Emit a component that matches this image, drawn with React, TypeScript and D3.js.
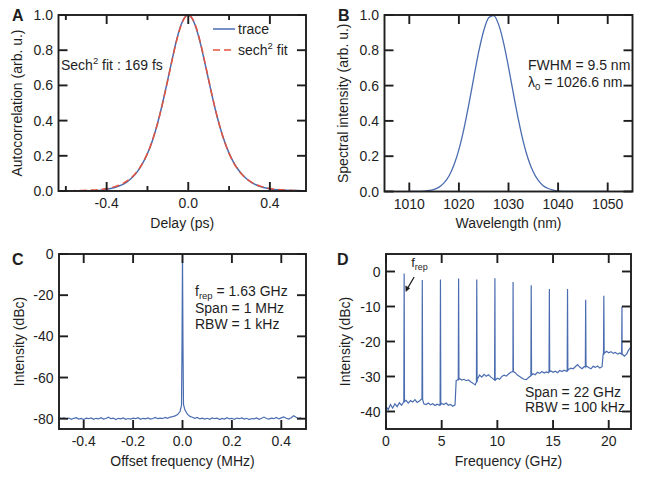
import React from "react"
import * as d3 from "d3"

// A: autocorrelation -> [delay (ps), measured trace, sech^2 fit]
const acData: [number, number, number][] = [
  [-0.64, 0.002, 0.001], [-0.6, -0.003, 0.001], [-0.56, 0.001, 0.002], [-0.52, -0.004, 0.003],
  [-0.48, 0.0, 0.005], [-0.44, 0.003, 0.008], [-0.4, 0.01, 0.014], [-0.38, 0.014, 0.019],
  [-0.36, 0.02, 0.025], [-0.34, 0.028, 0.033], [-0.32, 0.038, 0.043], [-0.3, 0.052, 0.057],
  [-0.28, 0.071, 0.075], [-0.26, 0.095, 0.098], [-0.24, 0.126, 0.128], [-0.22, 0.165, 0.166],
  [-0.2, 0.213, 0.214], [-0.18, 0.272, 0.273], [-0.16, 0.345, 0.345], [-0.14, 0.432, 0.43],
  [-0.12, 0.53, 0.527], [-0.1, 0.636, 0.632], [-0.08, 0.742, 0.739], [-0.06, 0.845, 0.841],
  [-0.04, 0.928, 0.925], [-0.02, 0.982, 0.98], [0.0, 1.0, 1.0], [0.02, 0.978, 0.98],
  [0.04, 0.921, 0.925], [0.06, 0.836, 0.841], [0.08, 0.735, 0.739], [0.1, 0.629, 0.632],
  [0.12, 0.525, 0.527], [0.14, 0.429, 0.43], [0.16, 0.345, 0.345], [0.18, 0.274, 0.273],
  [0.2, 0.215, 0.214], [0.22, 0.167, 0.166], [0.24, 0.129, 0.128], [0.26, 0.099, 0.098],
  [0.28, 0.075, 0.075], [0.3, 0.056, 0.057], [0.32, 0.042, 0.043], [0.34, 0.031, 0.033],
  [0.36, 0.023, 0.025], [0.38, 0.017, 0.019], [0.4, 0.012, 0.014], [0.44, 0.007, 0.008],
  [0.48, 0.004, 0.005], [0.52, 0.003, 0.003], [0.56, 0.002, 0.002], [0.58, 0.002, 0.002],
]

// B: optical spectrum -> [wavelength (nm), normalised intensity]
const spectrum: [number, number][] = [
  [1010, 0], [1011, 0], [1012, 0.001], [1013, 0.002], [1014, 0.006], [1015, 0.012],
  [1016, 0.025], [1017, 0.049], [1018, 0.088], [1019, 0.15], [1020, 0.237], [1021, 0.353],
  [1022, 0.493], [1023, 0.645], [1024, 0.792], [1025, 0.911], [1026, 0.984], [1027, 0.997],
  [1028, 0.947], [1029, 0.844], [1030, 0.705], [1031, 0.553], [1032, 0.407], [1033, 0.28],
  [1034, 0.181], [1035, 0.11], [1036, 0.063], [1037, 0.033], [1038, 0.017], [1039, 0.008],
  [1040, 0.003], [1041, 0.001], [1042, 0], [1046, 0], [1050, 0],
]

// C: RF spectrum around f_rep -> [offset (MHz), dBc]
const rfNarrow: [number, number][] = [
  [-0.5, -79.4], [-0.49, -79.9], [-0.48, -79.6], [-0.47, -80.1], [-0.46, -79.7], [-0.45, -80.3],
  [-0.44, -79.8], [-0.43, -79.5], [-0.42, -80.2], [-0.41, -79.9], [-0.4, -80.4], [-0.39, -79.7],
  [-0.38, -80.0], [-0.37, -79.6], [-0.36, -80.3], [-0.35, -79.8], [-0.34, -80.1], [-0.33, -79.5],
  [-0.32, -80.2], [-0.31, -79.9], [-0.3, -79.3], [-0.29, -80.0], [-0.28, -79.7], [-0.27, -80.4],
  [-0.26, -79.8], [-0.25, -80.1], [-0.24, -79.6], [-0.23, -80.3], [-0.22, -79.9], [-0.21, -80.2],
  [-0.2, -79.7], [-0.19, -80.0], [-0.18, -79.5], [-0.17, -80.3], [-0.16, -79.8], [-0.15, -80.1],
  [-0.14, -79.6], [-0.13, -80.2], [-0.12, -79.9], [-0.11, -79.4], [-0.1, -80.0], [-0.09, -79.7],
  [-0.08, -79.9], [-0.07, -79.4], [-0.06, -79.8], [-0.05, -79.2], [-0.04, -79.0], [-0.03, -78.6],
  [-0.02, -78.0], [-0.01, -76.5], [-0.006, -74.5], [-0.004, -73.5], [-0.002, -45], [0, 0],
  [0.002, -45], [0.004, -73], [0.006, -74], [0.01, -75.8], [0.02, -77.8], [0.03, -78.9],
  [0.04, -79.3], [0.05, -79.8], [0.06, -79.4], [0.07, -80.1], [0.08, -79.7], [0.09, -80.2],
  [0.1, -79.8], [0.11, -80.3], [0.12, -79.6], [0.13, -80.0], [0.14, -79.7], [0.15, -80.4],
  [0.16, -79.9], [0.17, -80.2], [0.18, -79.5], [0.19, -80.1], [0.2, -79.8], [0.21, -80.3],
  [0.22, -79.7], [0.23, -80.0], [0.24, -79.6], [0.25, -80.2], [0.26, -79.8], [0.27, -80.4],
  [0.28, -79.9], [0.29, -80.1], [0.3, -79.6], [0.31, -80.3], [0.32, -79.8], [0.33, -79.2],
  [0.34, -79.9], [0.35, -80.2], [0.36, -79.7], [0.37, -80.0], [0.38, -79.4], [0.39, -80.1],
  [0.4, -79.6], [0.41, -79.1], [0.42, -79.8], [0.43, -80.2], [0.44, -79.5], [0.45, -78.6],
  [0.46, -79.3], [0.47, -79.9], [0.48, -79.4],
]

// D: wide span noise floor -> [frequency (GHz), dBc]
const rfWideFloor: [number, number][] = [
  [0.0, -38.5], [0.2, -39.5], [0.4, -38.0], [0.6, -39.0], [0.8, -37.8], [1.0, -38.6],
  [1.2, -37.5], [1.4, -38.2], [1.6, -37.4], [1.8, -36.8], [2.0, -37.6], [2.2, -36.9],
  [2.4, -37.3], [2.6, -36.6], [2.8, -37.4], [3.0, -37.0], [3.2, -36.4], [3.4, -37.8],
  [3.6, -38.0], [3.8, -37.6], [4.0, -38.1], [4.2, -37.8], [4.4, -38.3], [4.6, -37.9],
  [4.8, -38.2], [5.0, -37.7], [5.2, -38.0], [5.4, -37.6], [5.6, -38.2], [5.8, -38.0],
  [6.0, -38.5], [6.2, -38.1], [6.3, -31.2], [6.4, -31.0], [6.6, -30.6], [6.8, -31.0],
  [7.0, -30.8], [7.2, -31.2], [7.4, -31.0], [7.6, -31.5], [7.8, -31.9], [8.0, -32.4],
  [8.2, -30.8], [8.4, -29.6], [8.6, -30.2], [8.8, -29.4], [9.0, -29.9], [9.2, -29.5],
  [9.4, -30.1], [9.6, -30.6], [9.8, -31.3], [10.0, -30.5], [10.2, -30.8], [10.4, -30.0],
  [10.6, -29.6], [10.8, -29.9], [11.0, -29.3], [11.2, -28.8], [11.4, -28.4], [11.6, -28.9],
  [11.8, -29.6], [12.0, -30.0], [12.2, -30.4], [12.4, -30.8], [12.6, -30.9], [12.8, -30.3],
  [13.0, -29.8], [13.2, -29.2], [13.4, -29.5], [13.6, -28.8], [13.8, -29.1], [14.0, -28.6],
  [14.2, -29.0], [14.4, -28.7], [14.6, -28.9], [14.8, -28.4], [15.0, -28.8], [15.2, -28.5],
  [15.4, -28.9], [15.6, -28.3], [15.8, -28.6], [16.0, -28.2], [16.2, -28.5], [16.4, -28.0],
  [16.6, -27.6], [16.8, -27.8], [17.0, -27.2], [17.2, -26.6], [17.4, -27.3], [17.6, -27.8],
  [17.8, -27.2], [18.0, -27.0], [18.2, -27.4], [18.4, -27.8], [18.6, -27.1], [18.8, -27.4],
  [19.0, -27.0], [19.2, -27.6], [19.4, -27.2], [19.5, -23.6], [19.6, -23.4], [19.8, -22.8],
  [20.0, -23.2], [20.2, -22.9], [20.4, -23.4], [20.6, -23.1], [20.8, -23.6], [21.0, -23.3],
  [21.2, -23.9], [21.4, -24.2], [21.6, -23.6], [21.8, -22.4], [22.0, -21.5],
]

// D: comb lines -> [frequency (GHz), peak dBc, floor under it dBc]
const rfHarmonics: [number, number, number][] = [
  [1.63, -0.6, -37.2], [3.26, -2.4, -36.6], [4.89, -2.3, -38.0], [6.52, -2.0, -30.8],
  [8.15, -2.3, -31.6], [9.78, -1.9, -31.0], [11.41, -3.0, -28.6], [13.04, -3.9, -29.6],
  [14.67, -5.0, -28.6], [16.3, -5.0, -28.3], [17.93, -8.1, -27.2], [19.56, -6.9, -23.6],
  [21.19, -10.0, -23.6],
]

const FONT = "'Liberation Sans', Arial, Helvetica, sans-serif"
const INK = "#1e1e1e"
const BLUE = "#4a6cb0"
const RED = "#e4533c"
const FS = 14

// plain hyphen for negatives, like the original figure
const fmt = (spec: string) => {
  const f = d3.format(spec)
  return (v: number) => f(v).replace("\u2212", "-")
}

type Lin = d3.ScaleLinear<number, number>

interface FrameProps {
  id: string
  x: Lin
  y: Lin
  xTicks: number[]
  xMinor?: number[]
  yTicks: number[]
  xFmt: (v: number) => string
  yFmt: (v: number) => string
  xTitle: string
  yTitle: string
  yTitleX: number
  letter: string
  letterX: number
  letterY: number
  children?: React.ReactNode
}

function Frame(p: FrameProps) {
  const [l, r] = p.x.range()
  const [b, t] = p.y.range()
  const MAJ = 9
  const MIN = 5
  return (
    <g>
      <defs>
        <clipPath id={p.id}>
          <rect x={l} y={t} width={r - l} height={b - t} />
        </clipPath>
      </defs>
      <g clipPath={`url(#${p.id})`}>{p.children}</g>
      <g stroke={INK} strokeWidth={1.9}>
        {p.xTicks.map((v) => (
          <g key={`x${v}`}>
            <line x1={p.x(v)} x2={p.x(v)} y1={b} y2={b - MAJ} />
            <line x1={p.x(v)} x2={p.x(v)} y1={t} y2={t + MAJ} />
          </g>
        ))}
        {(p.xMinor || []).map((v) => (
          <g key={`m${v}`}>
            <line x1={p.x(v)} x2={p.x(v)} y1={b} y2={b - MIN} />
            <line x1={p.x(v)} x2={p.x(v)} y1={t} y2={t + MIN} />
          </g>
        ))}
        {p.yTicks.map((v) => (
          <g key={`y${v}`}>
            <line x1={l} x2={l + MAJ} y1={p.y(v)} y2={p.y(v)} />
            <line x1={r} x2={r - MAJ} y1={p.y(v)} y2={p.y(v)} />
          </g>
        ))}
        <rect x={l} y={t} width={r - l} height={b - t} fill="none" />
      </g>
      <g fill={INK} fontSize={FS}>
        {p.xTicks.map((v) => (
          <text key={`xl${v}`} x={p.x(v)} y={b + 17} textAnchor="middle">
            {p.xFmt(v)}
          </text>
        ))}
        {p.yTicks.map((v) => (
          <text key={`yl${v}`} x={l - 5.5} y={p.y(v) + 5} textAnchor="end">
            {p.yFmt(v)}
          </text>
        ))}
        <text x={(l + r) / 2} y={b + 36.5} textAnchor="middle">
          {p.xTitle}
        </text>
        <text
          transform={`translate(${p.yTitleX},${(t + b) / 2}) rotate(-90)`}
          textAnchor="middle"
          dy="0.35em"
        >
          {p.yTitle}
        </text>
      </g>
      <text x={p.letterX} y={p.letterY} fontSize={16} fontWeight="bold" fill={INK}>
        {p.letter}
      </text>
    </g>
  )
}

function PanelA() {
  const x = d3.scaleLinear().domain([-0.636, 0.577]).range([58.5, 306])
  const y = d3.scaleLinear().domain([0, 1]).range([191, 15])
  const trace = d3
    .line<[number, number, number]>()
    .x((d) => x(d[0]))
    .y((d) => y(d[1]))
    .curve(d3.curveMonotoneX)
  const fit = d3
    .line<[number, number, number]>()
    .x((d) => x(d[0]))
    .y((d) => y(d[2]))
    .curve(d3.curveMonotoneX)
  return (
    <Frame
      id="clipA"
      x={x}
      y={y}
      xTicks={[-0.4, 0, 0.4]}
      xMinor={[-0.6, -0.2, 0.2]}
      yTicks={[0, 0.2, 0.4, 0.6, 0.8, 1]}
      xFmt={fmt(".1f")}
      yFmt={fmt(".1f")}
      xTitle="Delay (ps)"
      yTitle="Autocorrelation (arb. u.)"
      yTitleX={17.5}
      letter="A"
      letterX={12}
      letterY={21}
    >
      <path d={trace(acData) || ""} fill="none" stroke={BLUE} strokeWidth={1.5} />
      <path d={fit(acData) || ""} fill="none" stroke={RED} strokeWidth={1.5} strokeDasharray="7,4" />
      <g fontSize={FS} fill={INK}>
        <line x1={213} x2={235} y1={29} y2={29} stroke={BLUE} strokeWidth={1.5} />
        <text x={238} y={34}>trace</text>
        <line x1={213} x2={235} y1={50} y2={50} stroke={RED} strokeWidth={1.5} strokeDasharray="7,4" />
        <text x={238} y={55}>
          sech<tspan fontSize={9.5} dy={-6}>2</tspan>
          <tspan dy={6}>{"  fit"}</tspan>
        </text>
        <text x={61} y={70}>
          Sech<tspan fontSize={9.5} dy={-6}>2</tspan>
          <tspan dy={6}>{"  fit : 169 fs"}</tspan>
        </text>
      </g>
    </Frame>
  )
}

function PanelB() {
  const x = d3.scaleLinear().domain([1005, 1055]).range([384.5, 632.5])
  const y = d3.scaleLinear().domain([0, 1]).range([191.5, 15])
  const line = d3
    .line<[number, number]>()
    .x((d) => x(d[0]))
    .y((d) => y(d[1]))
    .curve(d3.curveMonotoneX)
  return (
    <Frame
      id="clipB"
      x={x}
      y={y}
      xTicks={[1010, 1020, 1030, 1040, 1050]}
      yTicks={[0, 0.2, 0.4, 0.6, 0.8, 1]}
      xFmt={fmt("d")}
      yFmt={fmt(".1f")}
      xTitle="Wavelength (nm)"
      yTitle="Spectral intensity (arb. u.)"
      yTitleX={343.5}
      letter="B"
      letterX={338}
      letterY={21}
    >
      <path d={line(spectrum) || ""} fill="none" stroke={BLUE} strokeWidth={1.3} />
      <g fontSize={FS} fill={INK}>
        <text x={528} y={70}>FWHM = 9.5 nm</text>
        <text x={528} y={87}>
          λ<tspan fontSize={9.5} dy={3}>0</tspan>
          <tspan dy={-3}> = 1026.6 nm</tspan>
        </text>
      </g>
    </Frame>
  )
}

function PanelC() {
  const x = d3.scaleLinear().domain([-0.5, 0.5]).range([59, 306])
  const y = d3.scaleLinear().domain([-85, 0]).range([429, 254])
  const line = d3
    .line<[number, number]>()
    .x((d) => x(d[0]))
    .y((d) => y(d[1]))
  return (
    <Frame
      id="clipC"
      x={x}
      y={y}
      xTicks={[-0.4, -0.2, 0, 0.2, 0.4]}
      yTicks={[-80, -60, -40, -20, 0]}
      xFmt={fmt(".1f")}
      yFmt={fmt("d")}
      xTitle="Offset frequency (MHz)"
      yTitle="Intensity (dBc)"
      yTitleX={19}
      letter="C"
      letterX={12}
      letterY={265}
    >
      <path d={line(rfNarrow) || ""} fill="none" stroke={BLUE} strokeWidth={1.2} />
      <g fontSize={FS} fill={INK}>
        <text x={195} y={296}>
          f<tspan fontSize={9.5} dy={3}>rep</tspan>
          <tspan dy={-3}> = 1.63 GHz</tspan>
        </text>
        <text x={195} y={312.5}>Span = 1 MHz</text>
        <text x={195} y={328.5}>RBW = 1 kHz</text>
      </g>
    </Frame>
  )
}

function PanelD() {
  const x = d3.scaleLinear().domain([0, 22]).range([386, 631])
  const y = d3.scaleLinear().domain([-45, 5]).range([429, 254])
  // merge the floor with the comb lines, each line as a narrow spike
  const pts: [number, number][] = [...rfWideFloor]
  rfHarmonics.forEach(([f, peak, base]) => {
    pts.push([f - 0.03, base], [f, peak], [f + 0.03, base])
  })
  pts.sort((a, b) => a[0] - b[0])
  const line = d3
    .line<[number, number]>()
    .x((d) => x(d[0]))
    .y((d) => y(d[1]))
  const ax = x(rfHarmonics[0][0])
  return (
    <Frame
      id="clipD"
      x={x}
      y={y}
      xTicks={[0, 5, 10, 15, 20]}
      yTicks={[-40, -30, -20, -10, 0]}
      xFmt={fmt("d")}
      yFmt={fmt("d")}
      xTitle="Frequency (GHz)"
      yTitle="Intensity (dBc)"
      yTitleX={345}
      letter="D"
      letterX={337}
      letterY={265}
    >
      <path d={line(pts) || ""} fill="none" stroke={BLUE} strokeWidth={1.2} />
      <g fontSize={FS} fill={INK}>
        <text x={525} y={397}>Span = 22 GHz</text>
        <text x={525} y={412}>RBW = 100 kHz</text>
        <text x={ax + 7} y={267} fontSize={13}>
          f<tspan fontSize={9} dy={3}>rep</tspan>
        </text>
      </g>
      <line x1={ax + 10} y1={277} x2={ax + 3} y2={289} stroke={INK} strokeWidth={1.3} />
      <path
        d={`M${ax + 1.5},${292} L${ax + 1.2},${285.5} L${ax + 6},${288.2} Z`}
        fill={INK}
      />
    </Frame>
  )
}

export default function App() {
  return (
    <div style={{ position: "absolute", left: 0, top: 0, width: 659, height: 483, background: "#fff" }}>
      <svg width={659} height={483} fontFamily={FONT} style={{ display: "block" }}>
        <rect width={659} height={483} fill="#fff" />
        <PanelA />
        <PanelB />
        <PanelC />
        <PanelD />
      </svg>
    </div>
  )
}
